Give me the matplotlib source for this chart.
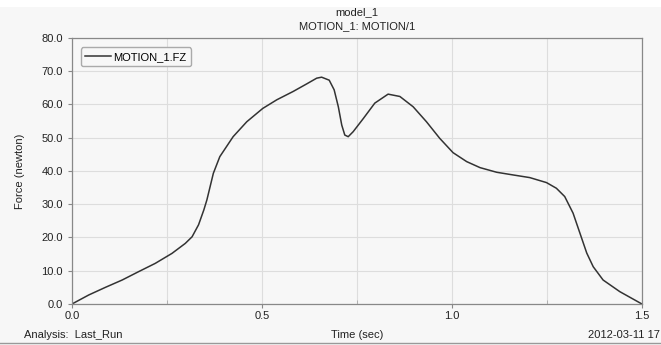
import numpy as np
import matplotlib.pyplot as plt
from matplotlib.patches import Rectangle
from matplotlib.lines import Line2D

plt.rcParams['font.family'] = ['Liberation Sans', 'DejaVu Sans']
plt.rcParams['font.size'] = 8

# MOTION_1.FZ
time_s = [0.0, 0.044, 0.088, 0.132, 0.175, 0.219, 0.263, 0.298, 0.316, 0.333,
          0.347, 0.355, 0.372, 0.389, 0.424, 0.460, 0.502, 0.539, 0.582, 0.618,
          0.644, 0.657, 0.677, 0.690, 0.701, 0.710, 0.718, 0.727, 0.740, 0.767,
          0.797, 0.832, 0.863, 0.898, 0.933, 0.968, 1.003, 1.039, 1.074, 1.118,
          1.161, 1.205, 1.249, 1.275, 1.297, 1.319, 1.337, 1.355, 1.372, 1.398,
          1.442, 1.5]
force_n = [0.0, 2.7, 5.0, 7.2, 9.7, 12.2, 15.2, 18.2, 20.2, 23.8,
           28.3, 31.3, 39.3, 44.3, 50.3, 54.8, 58.8, 61.4, 63.9, 66.2,
           67.9, 68.2, 67.3, 64.4, 59.3, 53.8, 50.8, 50.3, 51.8, 55.8,
           60.4, 63.1, 62.4, 59.3, 54.8, 49.8, 45.5, 42.8, 41.0, 39.6,
           38.8, 38.0, 36.5, 34.8, 32.3, 27.3, 21.3, 15.3, 11.2, 7.2,
           3.7, 0.0]

bg = '#f7f7f7'
fig = plt.figure(figsize=(6.61, 3.45), dpi=100, facecolor=bg)
fig.patches.append(Rectangle((0, 0.98), 1, 0.02, transform=fig.transFigure,
                             facecolor='white', edgecolor='none'))
fig.lines.append(Line2D([0, 1], [0.006, 0.006], transform=fig.transFigure,
                        color='#999999', lw=1))

ax = fig.add_axes([0.109, 0.119, 0.862, 0.771], facecolor=bg)
ax.plot(time_s, force_n, color='#333333', lw=1.1, label='MOTION_1.FZ')

ax.set_xlim(0, 1.5)
ax.set_ylim(0, 80)
ax.set_xticks([0.0, 0.5, 1.0, 1.5])
ax.set_xticklabels(['0.0', '0.5', '1.0', '1.5'])
ax.set_xticks([0.25, 0.75, 1.25], minor=True)
ax.set_yticks(np.arange(0, 81, 10))
ax.set_yticklabels(['%.1f' % v for v in np.arange(0, 81, 10)])
ax.grid(True, which='both', color='#dddddd', lw=0.8)
ax.set_axisbelow(True)
for s in ax.spines.values():
    s.set_color('#888888')
    s.set_linewidth(0.9)
ax.tick_params(axis='both', colors='#888888', labelcolor='#222222',
               length=3, labelsize=8)
ax.tick_params(axis='x', which='minor', length=3, direction='in', colors='#aaaaaa')
ax.tick_params(axis='x', pad=2)

ax.set_ylabel('Force (newton)', color='#222222', labelpad=12)
fig.text(0.54, 0.029, 'Time (sec)', ha='center', va='center', color='#222222')
fig.text(0.036, 0.029, 'Analysis:  Last_Run', ha='left', va='center', color='#222222')
fig.text(0.999, 0.029, '2012-03-11 17', ha='right', va='center', color='#222222')
fig.text(0.54, 0.965, 'model_1', ha='center', va='center', color='#222222')
fig.text(0.54, 0.925, 'MOTION_1: MOTION/1', ha='center', va='center', color='#222222')

leg = ax.legend(loc='upper left', handlelength=2.3, handletextpad=0.2,
                borderpad=0.4, fancybox=True, framealpha=1,
                bbox_to_anchor=(0.006, 0.985))
leg.get_frame().set_facecolor(bg)
leg.get_frame().set_edgecolor('#aaaaaa')

fig.savefig('out.png', dpi=100, facecolor=bg)
